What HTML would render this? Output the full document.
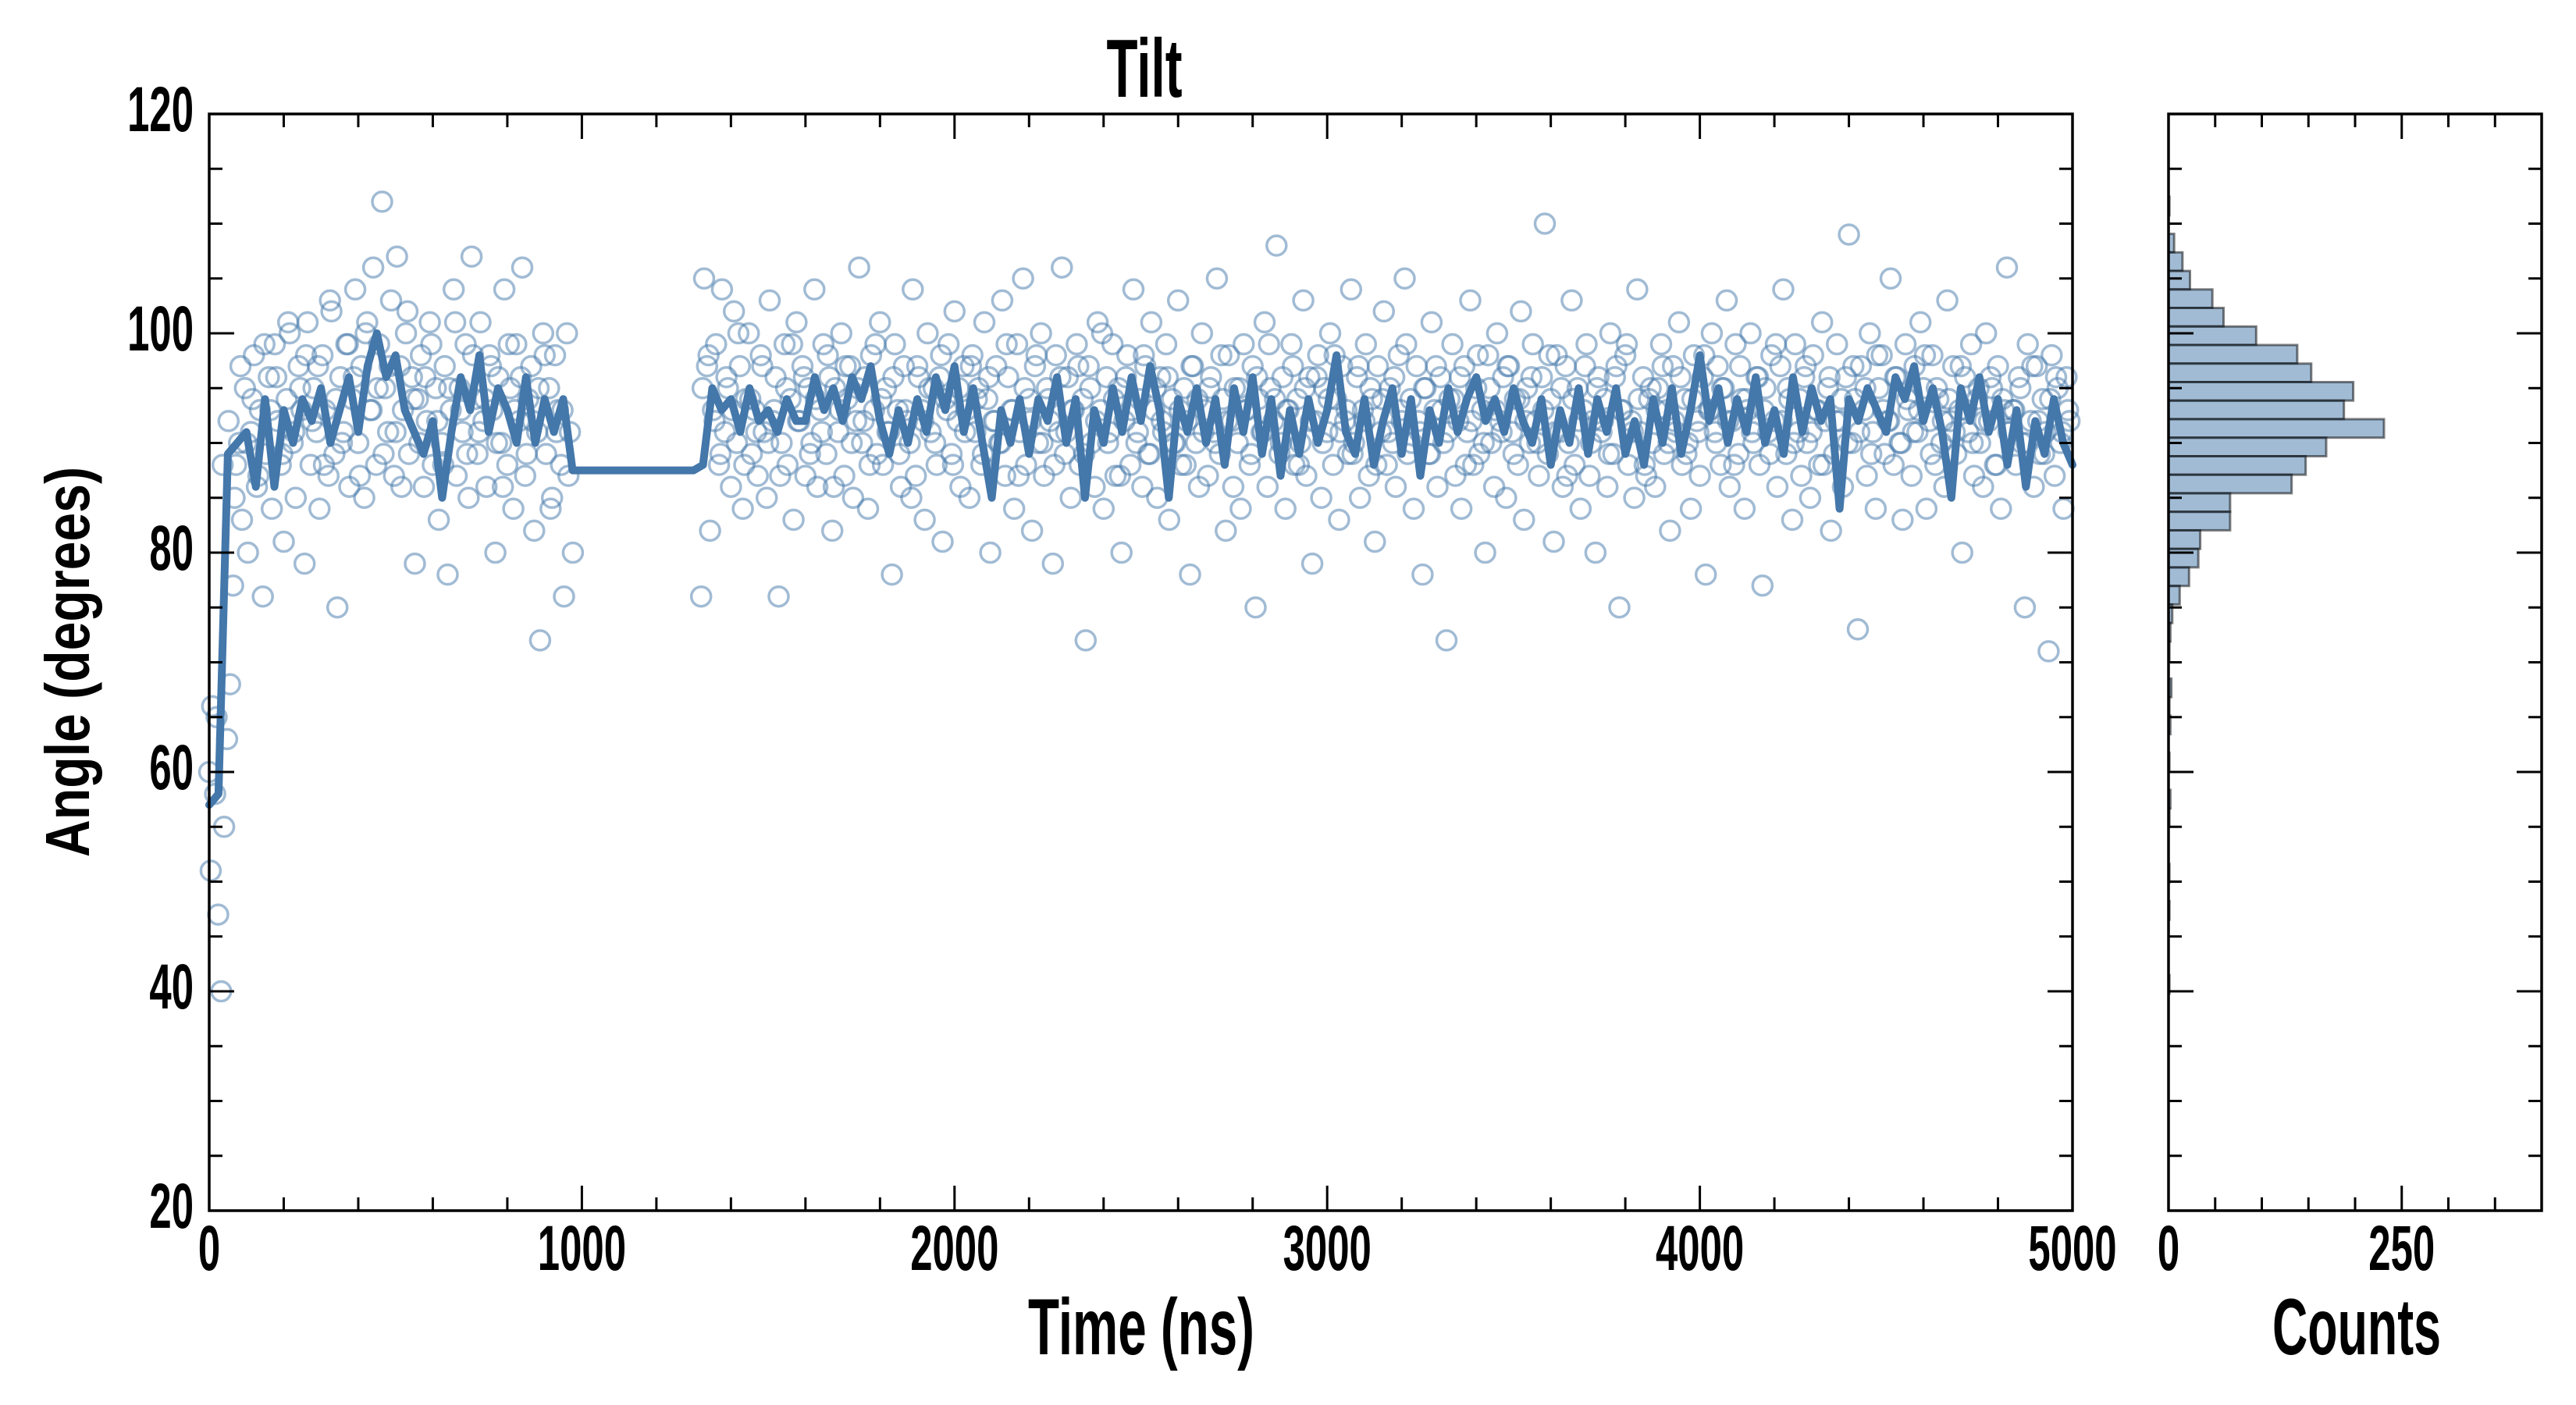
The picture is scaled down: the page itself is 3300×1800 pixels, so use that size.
<!DOCTYPE html>
<html>
<head>
<meta charset="utf-8">
<style>
html,body{margin:0;padding:0;background:#fff;}
svg{display:block;}
.cond{font-family:"Liberation Sans Narrow","Liberation Sans",sans-serif;font-weight:bold;fill:#000;}
</style>
</head>
<body>
<svg id="chart" width="3300" height="1800" viewBox="0 0 3300 1800" xmlns="http://www.w3.org/2000/svg">
  <rect x="0" y="0" width="3300" height="1800" fill="#fff"/>
  <g id="mainMarks"></g>
  <g id="histMarks"></g>
  <g id="axes"></g>
  <text class="cond" x="1466" y="124" font-size="106" text-anchor="middle" textLength="97" lengthAdjust="spacingAndGlyphs">Tilt</text>
  <text class="cond" x="1462" y="1735" font-size="102" text-anchor="middle" textLength="290" lengthAdjust="spacingAndGlyphs">Time (ns)</text>
  <text class="cond" x="3019" y="1735" font-size="102" text-anchor="middle" textLength="216" lengthAdjust="spacingAndGlyphs">Counts</text>
  <text x="0" y="0" transform="translate(114,848) rotate(-90)" font-family="'Liberation Sans',sans-serif" font-weight="bold" font-size="80" text-anchor="middle" textLength="500" lengthAdjust="spacingAndGlyphs">Angle (degrees)</text>
</svg>
<script>
// ---- data ----
const scatterStep = 8;
const scatterStart1 = 0;
const scatterY1 = [60,66,58,47,40,55,63,68,
77,88,90,83,95,80,91,98,86,93,
76,89,96,84,99,92,88,81,94,100,
90,85,97,93,79,101,88,95,91,84,
98,93,87,102,89,75,96,91,99,86,
94,104,90,97,85,101,93,106,88,99,
112,95,91,103,87,107,97,93,100,89,
96,79,94,98,86,92,101,88,95,83,
90,97,78,93,104,87,95,91,99,85,
107,94,89,101,92,86,98,93,80,96,
90,104,88,95,84,99,92,106,87,94,
97,82,91,72,100,89,95,85,98,93,
88,76,100,91,80];
const scatterStart2 = 1320;
const scatterY2 = [76,105,97,82,93,99,88,104,91,95,
86,102,90,97,84,94,100,89,93,87,
98,91,85,103,92,96,76,90,99,88,
94,83,101,92,97,87,95,90,104,86,
93,99,89,96,82,95,91,100,87,94,
97,85,92,106,90,96,84,98,93,89,
101,88,95,91,78,99,93,86,97,92,
90,104,87,96,93,83,100,91,95,88,
96,81,94,99,89,102,92,86,97,93,
85,98,91,95,88,101,94,80,92,97,
90,103,87,96,93,84,99,91,105,88,
94,82,97,90,100,87,95,92,79,98,
91,106,89,96,85,93,99,88,94,72,
97,90,86,101,93,84,96,91,99,87,
95,80,92,98,88,104,90,94,86,97,
89,101,93,85,96,91,99,83,94,90,
103,88,95,92,78,97,90,86,100,93,
87,96,91,105,89,94,82,98,92,95,
90,84,99,93,88,97,75,94,91,101,
86,95,92,108,89,96,84,93,99,88,
94,90,103,87,96,79,92,98,85,95,
91,100,88,94,83,97,92,89,104,90,
96,85,93,99,87,94,81,97,91,102,
88,95,90,86,98,92,105,89,94,84,
97,91,78,95,89,101,93,86,96,90,
72,94,99,87,92,84,97,91,103,88,
95,89,93,80,98,90,86,100,92,96,
85,97,91,94,88,102,83,95,90,99,
92,87,96,110,89,94,81,98,91,86,
97,90,103,88,95,84,93,99,87,92,
80,96,91,94,86,100,89,97,75,93,
98,88,92,85,104,91,96,87,94,90,
86,95,99,89,93,82,97,91,101,88,
94,90,84,98,92,87,96,78,93,100,
91,97,88,95,103,86,92,99,89,94,
84,93,100,90,96,88,77,95,91,98,
92,86,97,104,89,94,83,99,91,87,
96,90,85,98,93,88,101,92,95,82,
89,99,92,86,96,109,90,94,73,97,
93,87,100,91,84,95,98,89,92,105,
88,96,90,83,99,93,87,97,91,101,
95,84,92,98,88,94,90,86,103,92,
97,89,93,80,96,91,99,87,94,90,
86,100,92,95,88,97,84,93,106,91,
93,88,96,90,75,99,92,86,97,89,
94,91,71,98,87,95,90,84,96,92];
const scatterStep3 = 16;
const scatterStart3 = 4;
const scatterY3 = [51,65,88,92,85,97,90,94,87,99,
93,96,89,101,91,95,98,92,97,88,
103,94,90,99,96,87,100,93,95,89,
97,91,86,102,94,90,96,99,92,88,
95,101,93,89,98,91,94,97,90,86,
99,93,96,89,92,95,98,84,91,93,
87];
const scatterStart4 = 1324;
const scatterY4 = [95,98,92,89,96,93,100,88,94,91,
97,90,93,87,95,99,92,96,89,94,
91,98,86,93,97,90,95,92,88,99,
94,91,96,89,93,85,97,92,95,90,
98,93,88,95,91,97,94,89,96,92,
90,99,93,87,95,92,98,90,94,88,
96,91,93,97,89,95,92,100,90,94,
87,96,93,91,98,89,95,92,96,90,
93,88,97,94,91,95,90,98,92,86,
95,93,89,96,91,99,94,90,93,97,
88,95,92,96,90,94,98,91,93,89,
97,92,95,88,94,91,96,93,99,90,
92,95,89,97,93,91,94,96,88,92,
98,90,95,93,91,97,89,94,92,96,
90,93,98,91,95,87,94,92,97,90,
95,92,89,96,93,99,91,94,88,95,
93,97,90,92,96,89,94,91,98,93,
90,95,92,88,97,94,91,96,93,89,
99,92,95,90,94,97,91,93,88,96,
92,94,90,97,91,95,89,98,93,92,
96,90,94,91,93,98,89,95,92,94,
91,97,93,90,95,92,96,88,94,91,
93,95,90,97,92,89,94,96,91,93];
const lineStep = 25;
const lineY = [57,58,89,90,91,86,94,86,93,90,94,92,95,90,93,96,91,97,100,96,
98,93,91,89,92,85,91,96,93,98,91,95,93,90,96,90,94,91,94,87.5,
87.5,87.5,87.5,87.5,87.5,87.5,87.5,87.5,87.5,87.5,87.5,87.5,87.5,
88,95,93,94,91,95,92,93,91,94,
92,92,96,93,95,92,96,94,97,92,
89,93,90,94,91,96,93,97,91,95,
90,85,93,90,94,89,94,92,96,90,
94,85,93,90,95,91,96,92,97,93,
85,94,91,95,90,94,88,95,91,96,
89,94,87,93,89,94,90,93,98,91,
89,94,88,92,95,89,94,87,93,90,
95,91,94,96,92,94,91,95,92,90,
94,88,93,90,95,89,94,91,95,89,
92,88,94,90,95,89,93,98,92,95,
90,94,91,96,90,93,89,96,91,95,
92,94,84,94,92,95,93,91,96,94,
97,92,95,91,85,95,92,96,91,94,
88,93,86,92,89,94,90,88];
const histTop = 112.45;
const histBinWidth = 1.69;
const histCounts = [1,0,6,15,23,47,59,94,138,153,198,188,231,169,147,132,66,66,34,32,22,12,
4,2,1,0,3,1,2,0,1,0,2,1,0,0,1,0,1,0,0,0,1];
const xTicksMain = [0,1000,2000,3000,4000,5000];
const yTicks = [20,40,60,80,100,120];
const xTicksHist = [0,250];

// ---- geometry ----
const M = {l:268, r:2655, t:146, b:1551};
const H = {l:2778, r:3256};
const xMin=0, xMax=5000, yMin=20, yMax=120, cMax=400;
const sx = v => M.l + (v-xMin)/(xMax-xMin)*(M.r-M.l);
const sy = v => M.b - (v-yMin)/(yMax-yMin)*(M.b-M.t);
const sc = v => H.l + v/cMax*(H.r-H.l);
const NS='http://www.w3.org/2000/svg';
function mk(tag, attrs, parent){
  const e=document.createElementNS(NS,tag);
  for(const k in attrs) e.setAttribute(k,attrs[k]);
  parent.appendChild(e); return e;
}
const mainG=document.getElementById('mainMarks');
const histG=document.getElementById('histMarks');
const axG=document.getElementById('axes');

// scatter
const scatG=mk('g',{fill:'none',stroke:'rgba(68,119,170,0.5)','stroke-width':3.5},mainG);


function addPts(arr,start,step){
  arr.forEach((v,i)=>{
    const c=mk('circle',{cx:sx(start+i*step).toFixed(1),cy:sy(v).toFixed(1),r:12.5},scatG);
    
    
  });
}
addPts(scatterY1,scatterStart1,scatterStep);
addPts(scatterY2,scatterStart2,scatterStep);
addPts(scatterY3,scatterStart3,scatterStep3);
addPts(scatterY4,scatterStart4,scatterStep3);

// line
const pts=lineY.map((v,i)=>sx(i*lineStep).toFixed(1)+','+sy(v).toFixed(1)).join(' ');
const pl=mk('polyline',{points:pts,fill:'none',stroke:'#4477aa','stroke-width':10,'stroke-linejoin':'round','stroke-linecap':'round'},mainG);



// histogram
histCounts.forEach((c,k)=>{
  const top=histTop-k*histBinWidth, bot=top-histBinWidth;
  if(c<=0) return;
  const r=mk('rect',{x:H.l,y:sy(top).toFixed(1),width:(sc(c)-H.l).toFixed(1),height:(sy(bot)-sy(top)).toFixed(1),fill:'rgba(68,119,170,0.5)',stroke:'rgba(0,0,0,0.5)','stroke-width':3},histG);
  
  
});

// axes frames
[[M.l,M.r],[H.l,H.r]].forEach((p,idx)=>{
  const f=mk('rect',{x:p[0],y:M.t,width:p[1]-p[0],height:M.b-M.t,fill:'none',stroke:'#000','stroke-width':3.5},axG);
  
  
});
const tk=mk('g',{stroke:'#000','stroke-width':3},axG);


function ln(x1,y1,x2,y2){mk('line',{x1:x1,y1:y1,x2:x2,y2:y2},tk);}
const MAJ=32, MIN=17;
for(let v=0;v<=5000;v+=200){
  const x=sx(v), L=(v%1000===0)?MAJ:MIN;
  ln(x,M.b,x,M.b-L); ln(x,M.t,x,M.t+L);
}
for(let v=20;v<=120;v+=5){
  const y=sy(v), L=(v%20===0)?MAJ:MIN;
  ln(M.l,y,M.l+L,y); ln(M.r,y,M.r-L,y);
  ln(H.l,y,H.l+L,y); ln(H.r,y,H.r-L,y);
}
for(let v=0;v<=400;v+=50){
  const x=sc(v), L=(v%250===0)?MAJ:MIN;
  ln(x,M.b,x,M.b-L); ln(x,M.t,x,M.t+L);
}
function lbl(txt,x,y,anchor,name){
  const t=mk('text',{x:x,y:y,'font-size':82,'text-anchor':anchor,textLength:(txt.length*28.3).toFixed(1),lengthAdjust:'spacingAndGlyphs',class:'cond'},axG);
  t.textContent=txt;
  
  
}
xTicksMain.forEach(v=>lbl(String(v),sx(v),1627,'middle','x-tick-label'));
yTicks.forEach(v=>lbl(String(v),248,sy(v)+22,'end','y-tick-label'));
xTicksHist.forEach(v=>lbl(String(v),sc(v),1627,'middle','histogram-x-tick-label'));
</script>
</body>
</html>
